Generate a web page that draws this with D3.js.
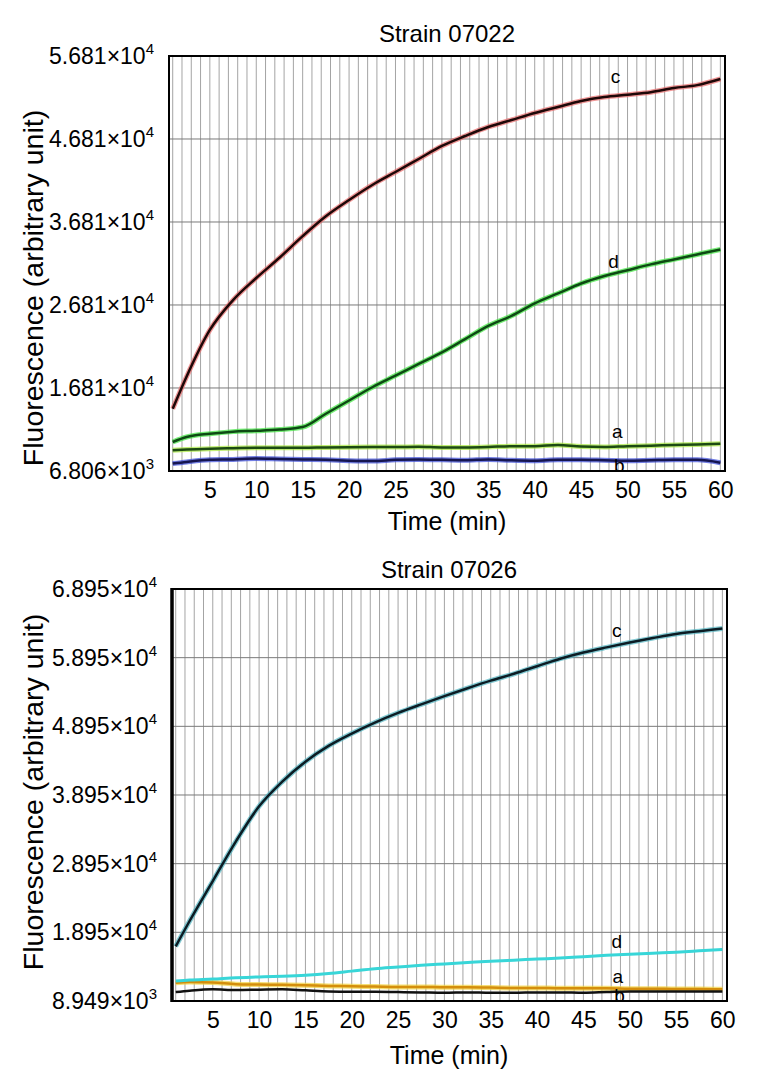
<!DOCTYPE html>
<html>
<head>
<meta charset="utf-8">
<script src="https://cdn.jsdelivr.net/npm/d3@7/dist/d3.min.js"></script>
<style>
    body { margin: 0; background: #fff; }
    svg { display: block; font-family: "Liberation Sans", Arial, sans-serif; }
</style>
</head>
<body>
<svg id="chart"></svg>
<script>
const width = 770;
const height = 1086;

// sampling times (min), shared by every curve
const times = [1, 2.5, 5, 7.5, 10, 12.5, 15, 17.5, 20, 22.5, 25, 27.5, 30, 32.5, 35, 37.5, 40, 42.5, 45, 47.5, 50, 52.5, 55, 57.5, 60];
const xTicks = [5, 10, 15, 20, 25, 30, 35, 40, 45, 50, 55, 60];

// Strain 07022
const yTicks07022 = [6806, 16810, 26810, 36810, 46810, 56810];
const a07022 = [9300, 9400, 9500, 9550, 9600, 9620, 9600, 9650, 9680, 9700, 9700, 9720, 9650, 9650, 9700, 9800, 9800, 9950, 9750, 9700, 9800, 9850, 9950, 10000, 10100];
const b07022 = [7700, 7900, 8150, 8200, 8300, 8250, 8200, 8150, 8050, 8000, 8150, 8200, 8150, 8100, 8200, 8100, 8050, 8150, 8150, 8100, 8050, 8100, 8150, 8150, 7800];
const c07022 = [14300, 18200, 23800, 27400, 30060, 32500, 35100, 37500, 39460, 41270, 42830, 44400, 45970, 47170, 48260, 49100, 49940, 50670, 51390, 51870, 52150, 52450, 52950, 53300, 54040];
const d07022 = [10300, 10900, 11300, 11550, 11650, 11800, 12100, 13700, 15300, 16900, 18300, 19700, 21100, 22700, 24300, 25500, 27000, 28200, 29400, 30300, 31000, 31700, 32300, 32900, 33500];
const labelNames07022 = ["c", "d", "a", "b"];
const labelTimes07022 = [48.7, 48.5, 48.9, 49.1];
const labelValues07022 = [53560, 31270, 10780, 6700];

// Strain 07026
const yTicks07026 = [8949, 18950, 28950, 38950, 48950, 58950, 68950];
const a07026 = [11600, 11700, 11650, 11400, 11350, 11300, 11250, 11150, 11100, 11050, 11000, 11000, 10950, 10950, 10900, 10850, 10850, 10800, 10800, 10800, 10750, 10750, 10700, 10700, 10650];
const b07026 = [10250, 10450, 10650, 10550, 10600, 10650, 10500, 10350, 10300, 10300, 10250, 10200, 10150, 10200, 10150, 10150, 10200, 10200, 10150, 10250, 10350, 10350, 10350, 10350, 10350];
const c07026 = [16900, 20600, 26400, 32200, 37300, 40900, 43800, 46100, 47900, 49500, 50900, 52150, 53350, 54500, 55600, 56600, 57700, 58800, 59700, 60450, 61150, 61800, 62400, 62800, 63200];
const d07026 = [11850, 12000, 12150, 12350, 12450, 12550, 12700, 12950, 13300, 13650, 13900, 14150, 14350, 14550, 14750, 14900, 15050, 15200, 15400, 15600, 15750, 15900, 16050, 16250, 16450];
const labelNames07026 = ["c", "d", "a", "b"];
const labelTimes07026 = [48.6, 48.6, 48.7, 48.9];
const labelValues07026 = [61950, 16670, 11570, 8750];

const svg = d3.select("#chart").attr("width", width).attr("height", height);
svg.append("rect").attr("width", width).attr("height", height).attr("fill", "#fff");

FluoVis = function(_svg, _config) {
    this.svg = _svg;
    this.config = _config;
    this.initVis();
};

FluoVis.prototype.initVis = function() {
    let vis = this;
    let cfg = vis.config;

    vis.g = vis.svg.append("g");

    vis.x = d3.scaleLinear().domain([0.6, 60.5]).range([cfg.left, cfg.right]);
    vis.y = d3.scaleLinear().domain(d3.extent(cfg.yTicks)).range([cfg.bottom, cfg.top]);

    // minute grid
    vis.g.selectAll(".vgrid").data(d3.range(1, 61)).enter().append("line").attr("class", "vgrid")
        .attr("x1", d => vis.x(d)).attr("x2", d => vis.x(d)).attr("y1", cfg.top).attr("y2", cfg.bottom)
        .attr("stroke", "#a4a4a4").attr("stroke-width", 1);

    vis.g.selectAll(".hgrid").data(cfg.yTicks).enter().append("line").attr("class", "hgrid")
        .attr("x1", cfg.left).attr("x2", cfg.right).attr("y1", d => vis.y(d)).attr("y2", d => vis.y(d))
        .attr("stroke", "#7a7a7a").attr("stroke-width", 1);

    let line = d3.line().x((d, i) => vis.x(times[i])).y(d => vis.y(d)).curve(d3.curveMonotoneX);

    // halo first, dark core on top
    cfg.series.forEach(s => {
        if (s.halo) {
            vis.g.append("path").datum(s.values).attr("d", line).attr("fill", "none")
                .attr("stroke", s.halo).attr("stroke-width", 5).attr("opacity", 0.7).attr("stroke-linejoin", "round");
        }
    });
    cfg.series.forEach(s => {
        vis.g.append("path").datum(s.values).attr("d", line).attr("fill", "none")
            .attr("stroke", s.color).attr("stroke-width", s.width).attr("stroke-linejoin", "round");
    });

    vis.g.append("rect").attr("x", cfg.left).attr("y", cfg.top)
        .attr("width", cfg.right - cfg.left).attr("height", cfg.bottom - cfg.top)
        .attr("fill", "none").attr("stroke", "#000").attr("stroke-width", 2);
    vis.g.append("line").attr("x1", cfg.left).attr("x2", cfg.left).attr("y1", cfg.top - 1).attr("y2", cfg.bottom + 1)
        .attr("stroke", "#000").attr("stroke-width", cfg.leftEdge);

    // curve letters
    vis.g.selectAll(".curve-label").data(cfg.labelNames).enter().append("text").attr("class", "curve-label")
        .attr("x", (d, i) => vis.x(cfg.labelTimes[i])).attr("y", (d, i) => vis.y(cfg.labelValues[i]))
        .attr("text-anchor", "middle").style("font-size", "19px").text(d => d);

    // y tick labels like 5.681×10^4
    let ylab = vis.g.selectAll(".ytick").data(cfg.yTicks).enter().append("text").attr("class", "ytick")
        .attr("x", cfg.left - 15).attr("y", d => vis.y(d) + 8)
        .attr("text-anchor", "end").style("font-size", "23px");
    ylab.append("tspan").text(d => {
        let e = Math.floor(Math.log10(d));
        return (d / Math.pow(10, e)).toFixed(3) + "×10";
    });
    ylab.append("tspan").attr("dy", -10).style("font-size", "15px")
        .text(d => Math.floor(Math.log10(d)));

    let xAxis = d3.axisBottom(vis.x).tickValues(xTicks).tickSize(0).tickPadding(9).tickFormat(d3.format("d"));
    let ax = vis.g.append("g").attr("transform", `translate(0, ${cfg.bottom + 2})`).call(xAxis);
    ax.select(".domain").remove();
    ax.selectAll("text").style("font-size", "23px").style("font-family", "Liberation Sans, Arial, sans-serif").attr("fill", "#000");

    vis.g.append("text").attr("x", cfg.titleX).attr("y", cfg.titleY).attr("text-anchor", "middle")
        .style("font-size", "24px").text(cfg.title);

    vis.g.append("text").attr("x", cfg.titleX).attr("y", cfg.xTitleY).attr("text-anchor", "middle")
        .style("font-size", "25px").text("Time (min)");

    vis.g.append("text").attr("transform", `translate(43, ${cfg.yTitleY}) rotate(-90)`)
        .attr("text-anchor", "middle").style("font-size", "28.5px").text("Fluorescence (arbitrary unit)");
};

new FluoVis(svg, {
    title: "Strain 07022",
    left: 169, right: 725, top: 56, bottom: 471, leftEdge: 2,
    titleX: 447, titleY: 42, xTitleY: 530, yTitleY: 288,
    yTicks: yTicks07022,
    series: [
        { values: a07022, color: "#1c4a12", halo: "#a6e83a", width: 2.5 },
        { values: b07022, color: "#161650", halo: "#3848d8", width: 2.5 },
        { values: d07022, color: "#0e4a14", halo: "#3ce63c", width: 2.5 },
        { values: c07022, color: "#1e0808", halo: "#e86a6a", width: 2.5 }
    ],
    labelNames: labelNames07022, labelTimes: labelTimes07022, labelValues: labelValues07022
});

new FluoVis(svg, {
    title: "Strain 07026",
    left: 172, right: 727, top: 589, bottom: 1001, leftEdge: 3.5,
    titleX: 449, titleY: 578, xTitleY: 1064, yTitleY: 792,
    yTicks: yTicks07026,
    series: [
        { values: a07026, color: "#d48e0c", halo: "#f2d23a", width: 2.5 },
        { values: b07026, color: "#111111", halo: null, width: 2.5 },
        { values: d07026, color: "#38d6d8", halo: null, width: 3 },
        { values: c07026, color: "#0c1c24", halo: "#4fb4c0", width: 2.5 }
    ],
    labelNames: labelNames07026, labelTimes: labelTimes07026, labelValues: labelValues07026
});
</script>
</body>
</html>
